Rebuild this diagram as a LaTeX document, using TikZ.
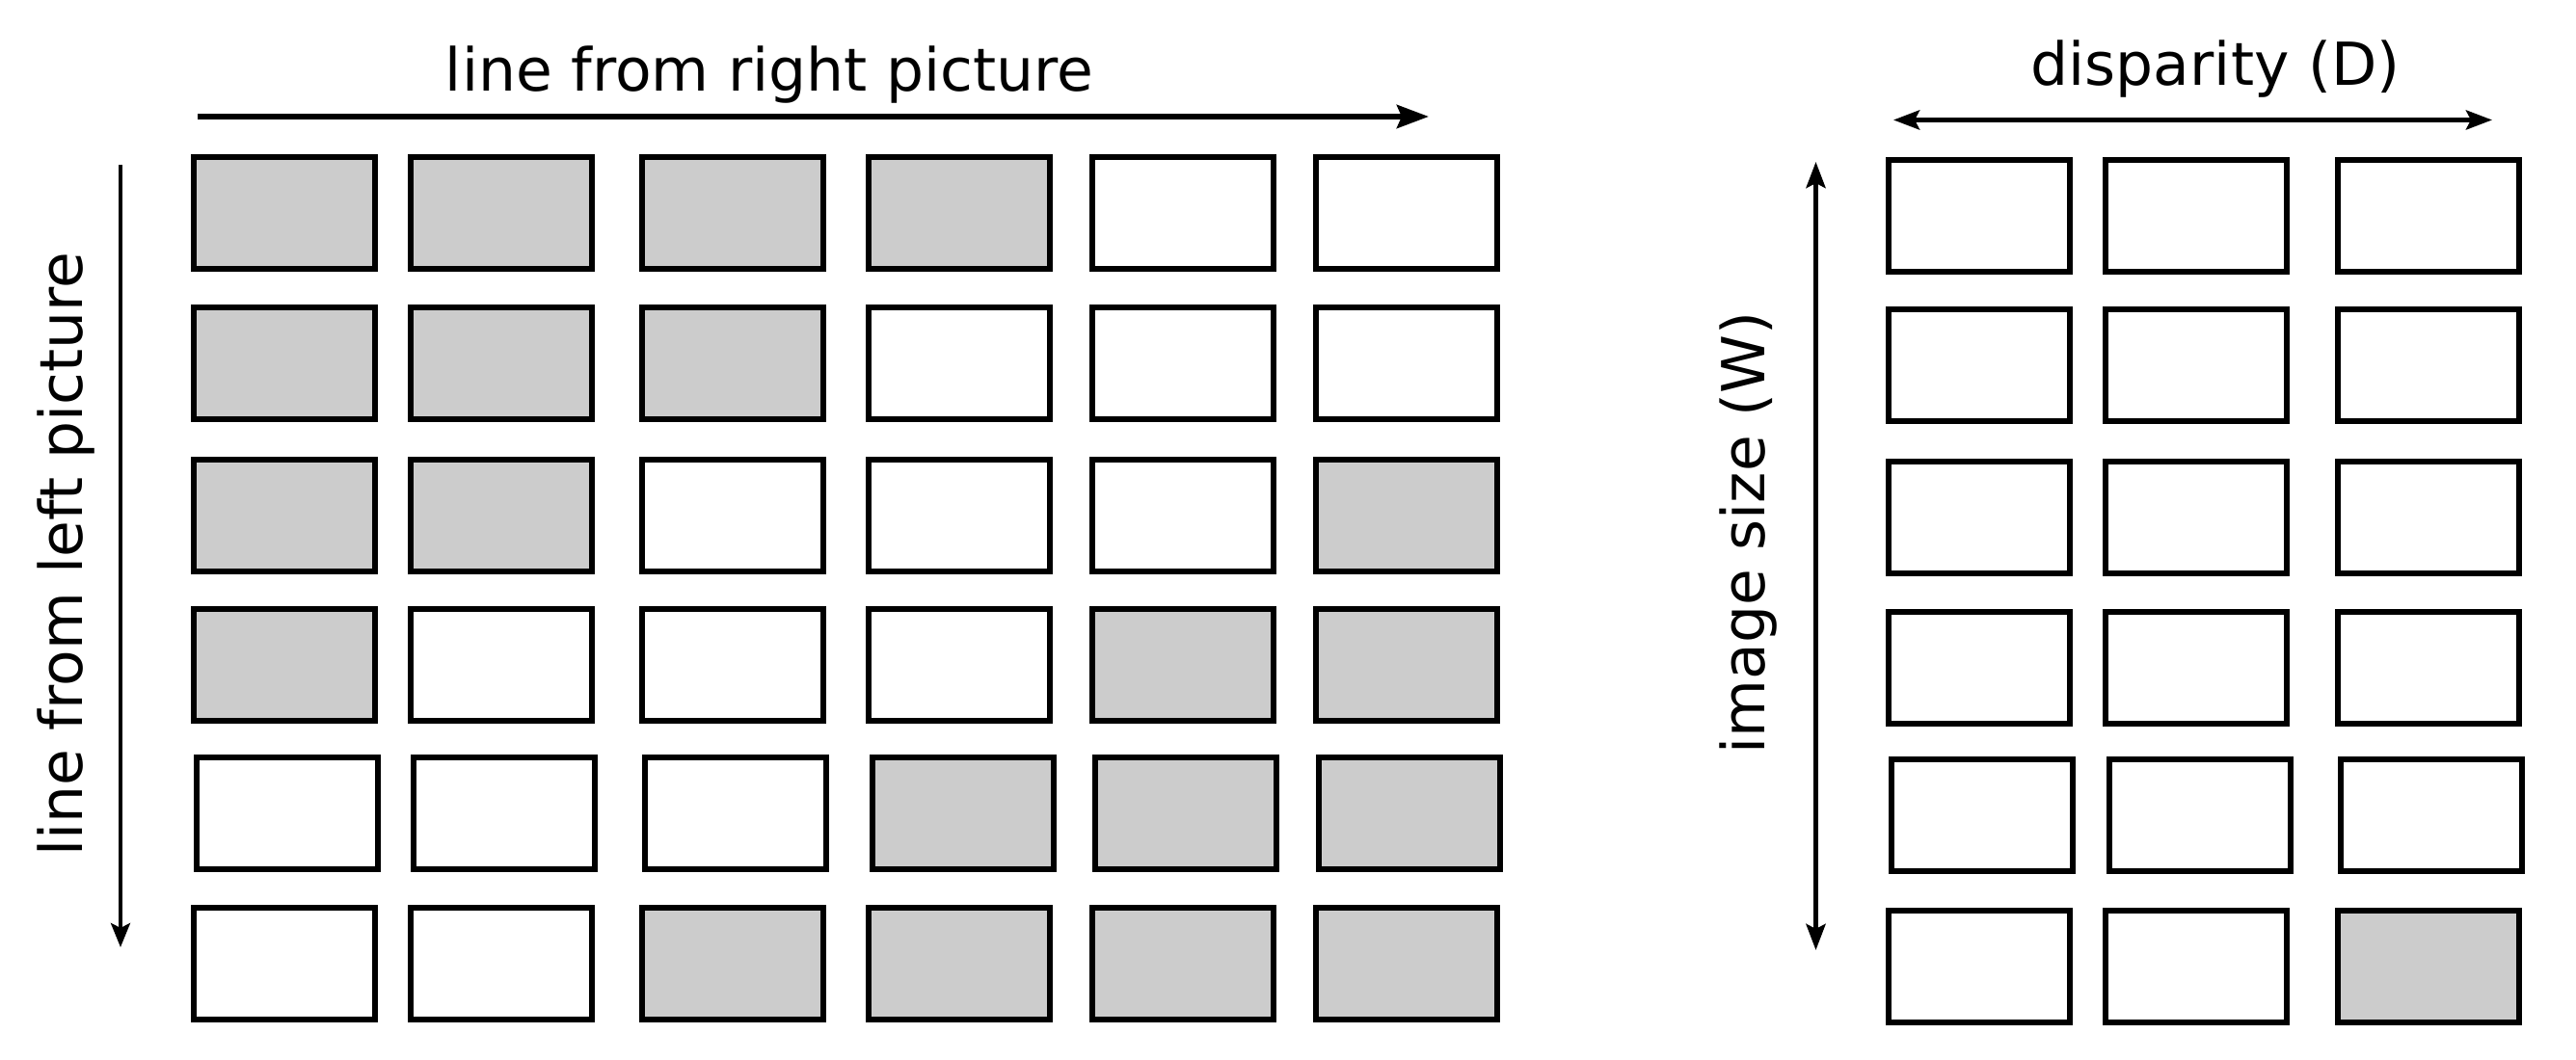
\documentclass[tikz,border=0pt]{standalone}
\usepackage{fontspec}
\setmainfont{DejaVu Sans}
\usepackage{tikz}
\usepackage{xcolor}
\usetikzlibrary{arrows.meta}

\definecolor{cellgray}{HTML}{CCCCCC}

\begin{document}
\begin{tikzpicture}[
    cell/.style={draw, line width=0.06cm, minimum width=1.88cm, minimum height=1.16cm, inner sep=0pt, outer sep=0pt},
    hit/.style={cell, fill=cellgray},
    axis/.style={line width=0.05cm},
    dtip/.tip={Stealth[length=0.27cm, width=0.2cm, inset=0.05cm]},
    label/.style={inner sep=0pt, font=\fontsize{17.5}{21}\selectfont}
]
\useasboundingbox (0,0) rectangle (26.72,11);

% Left grid: line from left picture x line from right picture
% Row 1
\node[hit]  (l11) at (2.95, 8.79) {};
\node[hit]  (l12) at (5.20, 8.79) {};
\node[hit]  (l13) at (7.60, 8.79) {};
\node[hit]  (l14) at (9.95, 8.79) {};
\node[cell] (l15) at (12.27, 8.79) {};
\node[cell] (l16) at (14.59, 8.79) {};
% Row 2
\node[hit]  (l21) at (2.95, 7.23) {};
\node[hit]  (l22) at (5.20, 7.23) {};
\node[hit]  (l23) at (7.60, 7.23) {};
\node[cell] (l24) at (9.95, 7.23) {};
\node[cell] (l25) at (12.27, 7.23) {};
\node[cell] (l26) at (14.59, 7.23) {};
% Row 3
\node[hit]  (l31) at (2.95, 5.65) {};
\node[hit]  (l32) at (5.20, 5.65) {};
\node[cell] (l33) at (7.60, 5.65) {};
\node[cell] (l34) at (9.95, 5.65) {};
\node[cell] (l35) at (12.27, 5.65) {};
\node[hit]  (l36) at (14.59, 5.65) {};
% Row 4
\node[hit]  (l41) at (2.95, 4.10) {};
\node[cell] (l42) at (5.20, 4.10) {};
\node[cell] (l43) at (7.60, 4.10) {};
\node[cell] (l44) at (9.95, 4.10) {};
\node[hit]  (l45) at (12.27, 4.10) {};
\node[hit]  (l46) at (14.59, 4.10) {};
% Row 5
\node[cell] (l51) at (2.98, 2.56) {};
\node[cell] (l52) at (5.23, 2.56) {};
\node[cell] (l53) at (7.63, 2.56) {};
\node[hit]  (l54) at (9.99, 2.56) {};
\node[hit]  (l55) at (12.30, 2.56) {};
\node[hit]  (l56) at (14.62, 2.56) {};
% Row 6
\node[cell] (l61) at (2.95, 1.00) {};
\node[cell] (l62) at (5.20, 1.00) {};
\node[hit]  (l63) at (7.60, 1.00) {};
\node[hit]  (l64) at (9.95, 1.00) {};
\node[hit]  (l65) at (12.27, 1.00) {};
\node[hit]  (l66) at (14.59, 1.00) {};

% Right grid: image size x disparity
\node[cell] (r11) at (20.53, 8.76) {};
\node[cell] (r12) at (22.78, 8.76) {};
\node[cell] (r13) at (25.19, 8.76) {};
\node[cell] (r21) at (20.53, 7.21) {};
\node[cell] (r22) at (22.78, 7.21) {};
\node[cell] (r23) at (25.19, 7.21) {};
\node[cell] (r31) at (20.53, 5.63) {};
\node[cell] (r32) at (22.78, 5.63) {};
\node[cell] (r33) at (25.19, 5.63) {};
\node[cell] (r41) at (20.53, 4.07) {};
\node[cell] (r42) at (22.78, 4.07) {};
\node[cell] (r43) at (25.19, 4.07) {};
\node[cell] (r51) at (20.56, 2.54) {};
\node[cell] (r52) at (22.82, 2.54) {};
\node[cell] (r53) at (25.22, 2.54) {};
\node[cell] (r61) at (20.53, 0.97) {};
\node[cell] (r62) at (22.78, 0.97) {};
\node[hit]  (r63) at (25.19, 0.97) {};

% Axis end points
\coordinate (rl-s) at (2.05, 9.79);
\coordinate (rl-e) at (14.82, 9.79);
\coordinate (ll-s) at (1.25, 9.29);
\coordinate (ll-e) at (1.25, 1.17);
\coordinate (dp-s) at (19.64, 9.755);
\coordinate (dp-e) at (25.85, 9.755);
\coordinate (sz-s) at (18.835, 1.14);
\coordinate (sz-e) at (18.835, 9.32);

% Axes
\draw[line width=0.06cm, -{Stealth[length=0.33cm, width=0.24cm, inset=0.05cm]}] (rl-s) -- (rl-e);
\draw[line width=0.04cm, -{Stealth[length=0.25cm, width=0.2cm, inset=0.05cm]}] (ll-s) -- (ll-e);
\draw[axis, dtip-dtip] (dp-s) -- (dp-e);
\draw[axis, dtip-dtip] (sz-s) -- (sz-e);

% Axis labels
\node[label, anchor=base] (rl-lab) at (7.98, 10.05) {line from right picture};
\node[label, anchor=base, rotate=90] (ll-lab) at (0.86, 5.25) {line from left picture};
\node[label, anchor=base] (dp-lab) at (22.98, 10.115) {disparity (D)};
\node[label, anchor=base, rotate=90] (sz-lab) at (18.30, 5.47) {image size (W)};

\end{tikzpicture}
\end{document}
